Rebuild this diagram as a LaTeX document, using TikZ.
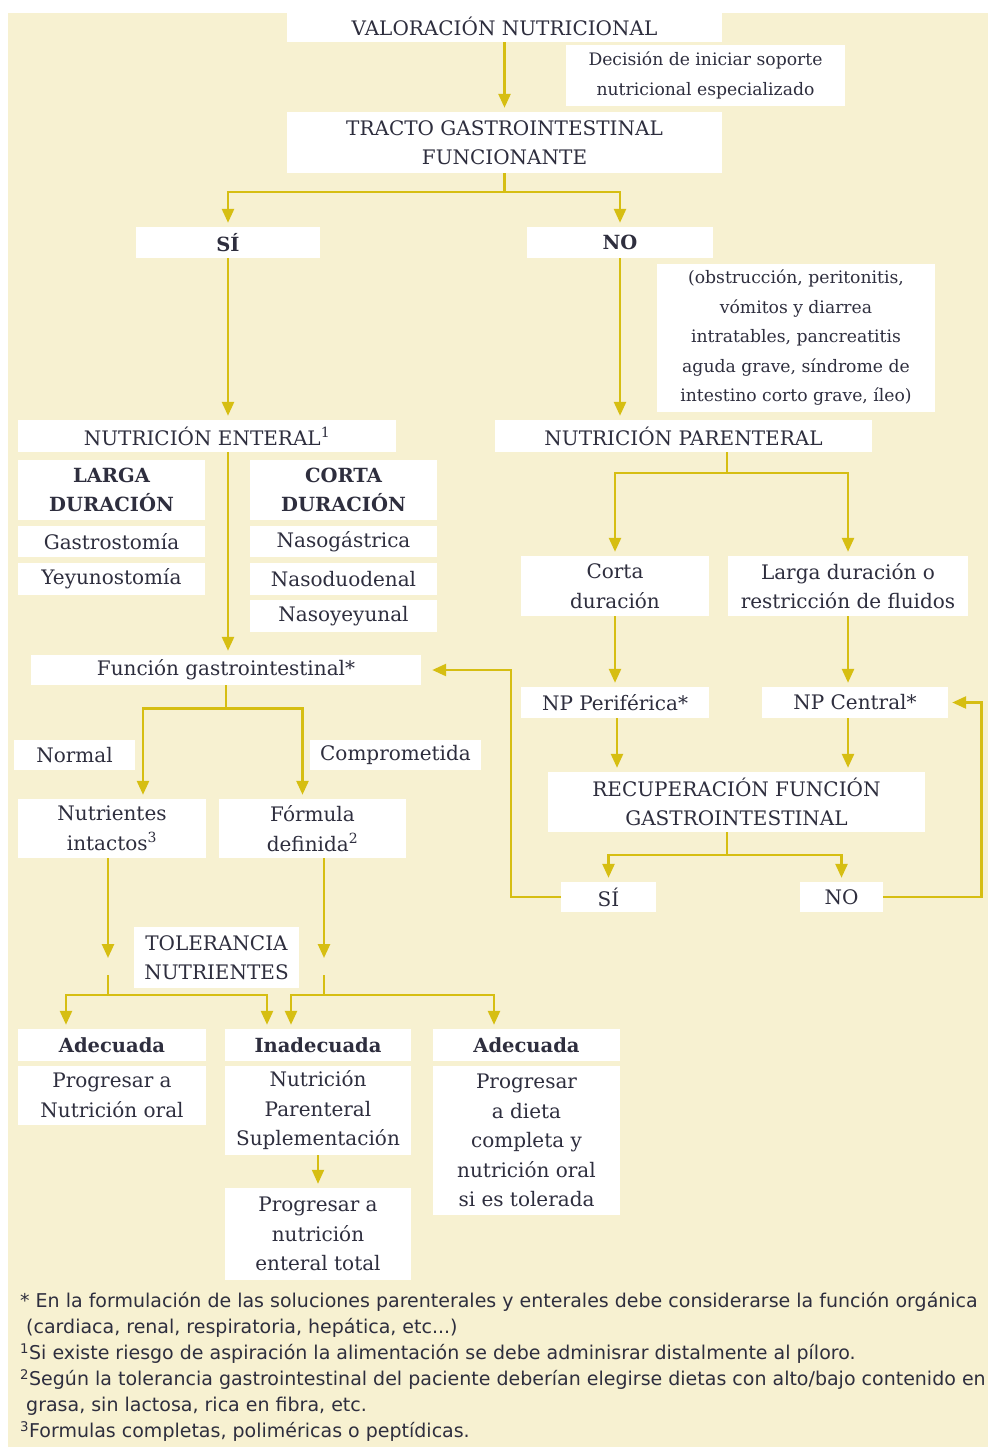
\documentclass[tikz,border=0pt]{standalone}
\usepackage{fontspec}
\setmainfont{DejaVu Serif}
\newfontfamily\notefont{DejaVu Sans}
\usetikzlibrary{arrows.meta,calc}
\definecolor{cream}{RGB}{247,241,209}
\definecolor{flow}{RGB}{214,190,18}
\definecolor{ink}{RGB}{46,46,62}
\tikzset{
  wbox/.style={fill=white,text=ink,inner sep=0pt,align=center,font=\fontsize{20}{29.5}\selectfont},
  sbox/.style={wbox,font=\fontsize{17.2}{29.5}\selectfont},
  bbox/.style={wbox,font=\fontsize{19.5}{29.5}\selectfont\bfseries},
  lnk/.style={draw=flow,line width=2.6pt},
  arr/.style={lnk,shorten >=4pt,-{Triangle[length=14pt,width=12pt]}},
}

\begin{document}
\begin{tikzpicture}[x=1pt,y=-1pt]
  \useasboundingbox (0,0) rectangle (988,1447);
  \fill[white] (0,0) rectangle (988,1447);
  \fill[cream] (8,13) rectangle (988,1447);

  \coordinate (tj) at (504.5,192);
  \coordinate (pj) at (727,473);
  \coordinate (rj) at (727,855);
  \coordinate (jL) at (108,995);
  \coordinate (jR) at (324,995);

  \node[wbox,minimum width=435,minimum height=32] (val) at (504.5,26) {VALORACIÓN NUTRICIONAL};
  \node[sbox,minimum width=279,minimum height=61] (dec) at (705.5,75.5) {Decisión de iniciar soporte\\nutricional especializado};
  \node[wbox,minimum width=435,minimum height=61] (tracto) at (504.5,142.5) {TRACTO GASTROINTESTINAL\\FUNCIONANTE};
  \node[bbox,minimum width=184,minimum height=31] (si) at (228,242.5) {SÍ};
  \node[bbox,minimum width=186,minimum height=31] (no) at (620,242.5) {NO};
  \node[sbox,minimum width=278,minimum height=148] (obs) at (796,338) {(obstrucción, peritonitis,\\vómitos y diarrea\\intratables, pancreatitis\\aguda grave, síndrome de\\intestino corto grave, íleo)};

  \node[wbox,minimum width=378,minimum height=32] (ne) at (207,436) {NUTRICIÓN ENTERAL\textsuperscript{1}};
  \node[wbox,minimum width=377,minimum height=32] (np) at (683.5,436) {NUTRICIÓN PARENTERAL};
  \node[bbox,minimum width=187,minimum height=60] (larga) at (111.5,490) {LARGA\\DURACIÓN};
  \node[wbox,minimum width=187,minimum height=31] (gastro) at (111.5,541.5) {Gastrostomía};
  \node[wbox,minimum width=187,minimum height=32] (yeyu) at (111.5,579) {Yeyunostomía};
  \node[bbox,minimum width=187,minimum height=60] (corta) at (343.5,490) {CORTA\\DURACIÓN};
  \node[wbox,minimum width=187,minimum height=31] (nasog) at (343.5,541.5) {Nasogástrica};
  \node[wbox,minimum width=187,minimum height=32] (nasod) at (343.5,579) {Nasoduodenal};
  \node[wbox,minimum width=187,minimum height=32] (nasoy) at (343.5,616) {Nasoyeyunal};

  \node[wbox,minimum width=390,minimum height=30] (fgi) at (226,670) {Función gastrointestinal*};
  \node[wbox,minimum width=121,minimum height=30] (normal) at (74.5,755) {Normal};
  \node[wbox,minimum width=171,minimum height=30] (compr) at (395.5,755) {Comprometida};
  \node[wbox,minimum width=188,minimum height=59] (nut) at (112,828.5) {Nutrientes\\intactos\textsuperscript{3}};
  \node[wbox,minimum width=187,minimum height=59] (fdef) at (312.5,828.5) {Fórmula\\definida\textsuperscript{2}};
  \node[wbox,minimum width=165,minimum height=61] (tol) at (216.5,957.5) {TOLERANCIA\\NUTRIENTES};

  \node[bbox,minimum width=188,minimum height=32] (ade1) at (112,1045) {Adecuada};
  \node[wbox,minimum width=188,minimum height=59] (prog1) at (112,1095.5) {Progresar a\\Nutrición oral};
  \node[bbox,minimum width=186,minimum height=32] (inade) at (318,1045) {Inadecuada};
  \node[wbox,minimum width=186,minimum height=89] (nps) at (318,1110.5) {Nutrición\\Parenteral\\Suplementación};
  \node[wbox,minimum width=186,minimum height=92] (prog2) at (318,1234) {Progresar a\\nutrición\\enteral total};
  \node[bbox,minimum width=187,minimum height=32] (ade2) at (526.5,1045) {Adecuada};
  \node[wbox,minimum width=187,minimum height=149] (prog3) at (526.5,1140.5) {Progresar\\a dieta\\completa y\\nutrición oral\\si es tolerada};

  \node[wbox,minimum width=188,minimum height=60] (cdur) at (615,586) {Corta\\duración};
  \node[wbox,minimum width=240,minimum height=60] (ldur) at (848,586) {Larga duración o\\restricción de fluidos};
  \node[wbox,minimum width=188,minimum height=31] (npp) at (615,702.5) {NP Periférica*};
  \node[wbox,minimum width=186,minimum height=31] (npc) at (855,702.5) {NP Central*};
  \node[wbox,minimum width=377,minimum height=60] (rec) at (736.5,802) {RECUPERACIÓN FUNCIÓN\\GASTROINTESTINAL};
  \node[wbox,minimum width=95,minimum height=30] (sib) at (608.5,897) {SÍ};
  \node[wbox,minimum width=83,minimum height=30] (nob) at (841.5,897) {NO};

  \draw[arr] (val.south) -- (tracto.north);
  \draw[lnk] (tracto.south) -- (tj);
  \draw[arr] (tj) -| (si.north);
  \draw[arr] (tj) -| (no.north);
  \draw[arr] (si.south) -- (si.south |- ne.north);
  \draw[arr] (no.south) -- (no.south |- np.north);
  \draw[arr] (si.south |- ne.south) -- (si.south |- fgi.north);

  \draw[lnk] (fgi.south) -- ++(0,23) coordinate (fj);
  \draw[arr] (fj) -| ([xshift=31pt]nut.north);
  \draw[arr] (fj) -| ([xshift=-10pt]fdef.north);

  \draw[arr] (nut.south -| jL) -- ([yshift=33pt]jL);
  \draw[arr] (fdef.south -| jR) -- ([yshift=33pt]jR);
  \draw[lnk] ([yshift=20pt]jL) -- (jL);
  \draw[lnk] ([yshift=20pt]jR) -- (jR);
  \draw[arr] (jL) -| ([xshift=-46pt]ade1.north);
  \draw[arr] (jL) -| ([xshift=-51pt]inade.north);
  \draw[arr] (jR) -| ([xshift=-27pt]inade.north);
  \draw[arr] (jR) -| ([xshift=-32.5pt]ade2.north);
  \draw[arr,line width=2pt] (nps.south) -- (prog2.north);

  \draw[lnk] (np.south -| pj) -- (pj);
  \draw[arr] (pj) -| (cdur.north);
  \draw[arr] (pj) -| (ldur.north);
  \draw[arr] (cdur.south) -- (npp.north);
  \draw[arr] (ldur.south) -- (ldur.south |- npc.north);
  \draw[arr] ([xshift=2pt]npp.south) -- ([xshift=2pt]npp.south |- rec.north);
  \draw[arr] (npc.south -| ldur.south) -- (ldur.south |- rec.north);
  \draw[lnk] (rec.south -| rj) -- (rj);
  \draw[arr] (rj) -| (sib.north);
  \draw[arr] (rj) -| (nob.north);
  \draw[arr] (sib.west) -- ++(-50,0) |- ([xshift=7pt]fgi.east);
  \draw[arr] (nob.east) -- ++(98,0) |- (npc.east);

  \node[anchor=north west,align=left,text=ink,inner sep=0pt,
        font=\notefont\fontsize{19}{26}\selectfont] (notas) at (20,1292)
    {* En la formulación de las soluciones parenterales y enterales debe considerarse la función orgánica\\
     \hspace*{6pt}(cardiaca, renal, respiratoria, hepática, etc...)\\
     \textsuperscript{1}Si existe riesgo de aspiración la alimentación se debe adminisrar distalmente al píloro.\\
     \textsuperscript{2}Según la tolerancia gastrointestinal del paciente deberían elegirse dietas con alto/bajo contenido en\\
     \hspace*{6pt}grasa, sin lactosa, rica en fibra, etc.\\
     \textsuperscript{3}Formulas completas, poliméricas o peptídicas.};
\end{tikzpicture}
\end{document}
